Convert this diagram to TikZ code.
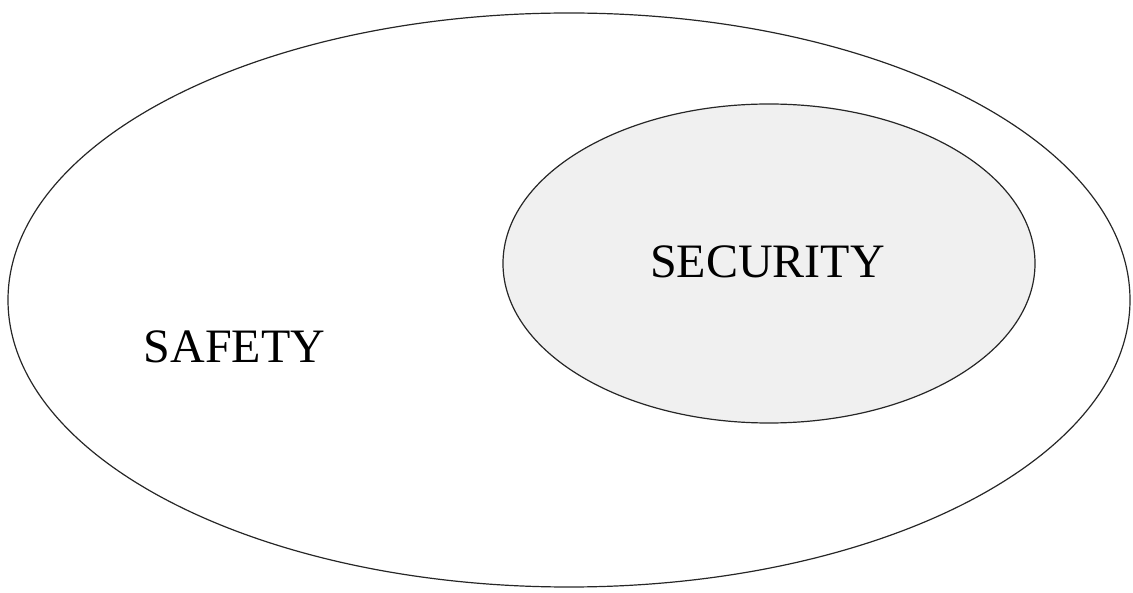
\documentclass[tikz,border=0pt]{standalone}
\usepackage{fontspec}
\setmainfont{Liberation Serif}
\begin{document}
\begin{tikzpicture}[x=1pt,y=-1pt,
  set/.style={draw=black!85,line width=1.2pt},
  label/.style={font=\fontsize{48}{52}\selectfont,anchor=base,inner sep=0pt}]
\useasboundingbox (0,0) rectangle (1133,593);
% outer set
\draw[set] (569,300) ellipse [x radius=561, y radius=287];
% inner set
\draw[set,fill=black!6] (769,263.5) ellipse [x radius=266, y radius=159.5];
\node[label] (security) at (767.5,278) {SECURITY};
\node[label] (safety) at (234.5,363) {SAFETY};
\end{tikzpicture}
\end{document}
